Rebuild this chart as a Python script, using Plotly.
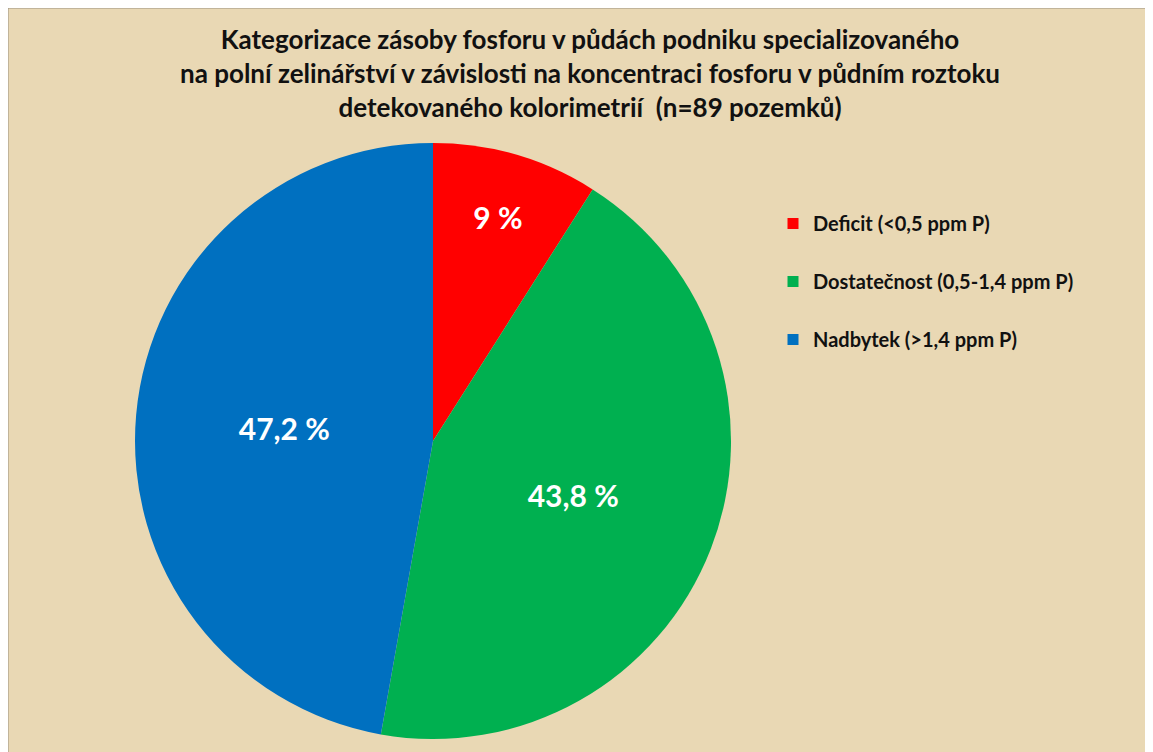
import plotly.graph_objects as go

categories = ["Deficit (<0,5 ppm P)", "Dostatečnost (0,5-1,4 ppm P)", "Nadbytek (>1,4 ppm P)"]
values = [9.0, 43.8, 47.2]
colors = ["#FF0000", "#00B050", "#0070C0"]
title_lines = [
    "Kategorizace zásoby fosforu v půdách podniku specializovaného",
    "na polní zelinářství v závislosti na koncentraci fosforu v půdním roztoku",
    "detekovaného kolorimetrií  (n=89 pozemků)",
]

W, H = 1153, 752
text_labels = [(f"{v:g} %").replace(".", ",") for v in values]

fig = go.Figure()
fig.add_trace(go.Pie(
    labels=categories,
    values=values,
    text=text_labels,
    texttemplate="%{text}",
    textinfo="text",
    textposition="inside",
    insidetextorientation="horizontal",
    textfont=dict(family="Lato", size=30, color="white", weight="bold"),
    marker=dict(colors=colors, line=dict(width=0)),
    sort=False,
    direction="clockwise",
    rotation=0,
    showlegend=False,
    hoverinfo="label+percent",
    domain=dict(x=[127 / W, 723 / W], y=[21 / H, 617 / H]),
))

# legend entries
for name, col in zip(categories, colors):
    fig.add_trace(go.Scatter(
        x=[None], y=[None], mode="markers", name=name, legendgroup=name,
        marker=dict(symbol="square", size=11, color=col),
        showlegend=True,
    ))

fig.update_layout(
    width=W, height=H,
    margin=dict(l=0, r=0, t=0, b=0),
    paper_bgcolor="#E9D8B4",
    plot_bgcolor="rgba(0,0,0,0)",
    xaxis=dict(visible=False),
    yaxis=dict(visible=False),
    title=dict(
        text="<br>".join(title_lines),
        x=582 / W, xanchor="center",
        y=1 - 41 / H, yanchor="top",
        font=dict(family="Lato", size=26, color="#111111", weight="bold"),
    ),
    legend=dict(
        x=765 / W, y=1 - 196 / H, xanchor="left", yanchor="top",
        font=dict(family="Lato", size=20, color="#111111", weight="bold"),
        tracegroupgap=29,
        bgcolor="rgba(0,0,0,0)",
        itemclick=False, itemdoubleclick=False,
    ),
    shapes=[dict(
        type="rect", xref="paper", yref="paper",
        x0=0, x1=1.0, y0=0.0, y1=1,
        fillcolor="rgba(0,0,0,0)", line=dict(color="#9A9080", width=1),
        layer="below",
    )],
)

fig.write_html("out.html")
